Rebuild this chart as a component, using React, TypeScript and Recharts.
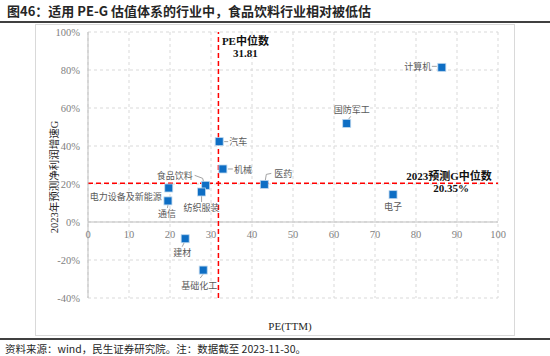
import React from 'react';
import { ScatterChart, Scatter, XAxis, YAxis, CartesianGrid, ReferenceLine } from 'recharts';

const industries = ['计算机', '国防军工', '电子', '汽车', '机械', '医药', '食品饮料', '纺织服装', '电力设备及新能源', '通信', '建材', '基础化工'];
const peTTM = [86.3, 63.1, 74.4, 32.0, 32.9, 43.0, 28.7, 27.7, 19.7, 19.5, 23.7, 28.1];
const growthG = [81.4, 51.9, 14.4, 42.3, 27.9, 19.8, 19.3, 15.8, 17.9, 11.1, -8.8, -25.3];
const xTicks = [0, 10, 20, 30, 40, 50, 60, 70, 80, 90, 100];
const yTicks = [-40, -20, 0, 20, 40, 60, 80, 100];
const peMedian = 31.81;
const gMedian = 20.35;

const points = industries.map((name, i) => ({ name, pe: peTTM[i], g: growthG[i] }));

// where each industry name sits relative to its marker, plus its little leader line
const labelPlace: Record<string, { dx: number; dy: number; leader?: number[][] }> = {
  计算机: { dx: -24, dy: -1, leader: [[-10, -1], [-5, -1]] },
  国防军工: { dx: 5, dy: -14, leader: [[4, -7], [1, -3]] },
  电子: { dx: 0, dy: 12 },
  汽车: { dx: 19, dy: 0, leader: [[5, 0], [9, 0]] },
  机械: { dx: 20, dy: 1, leader: [[5, 0], [10, 0]] },
  医药: { dx: 19, dy: -11, leader: [[1, -4], [2, -10], [7, -11]] },
  食品饮料: { dx: -31, dy: -10, leader: [[-11, -10], [-3, -7], [-2, -3]] },
  纺织服装: { dx: 0, dy: 16, leader: [[0, 4], [0, 10]] },
  电力设备及新能源: { dx: -43, dy: 9 },
  通信: { dx: -1, dy: 13, leader: [[0, 4], [-0.5, 7]] },
  建材: { dx: -3, dy: 14, leader: [[-1, 4], [-3, 8]] },
  基础化工: { dx: -4, dy: 15, leader: [[0, 4], [-3, 8]] },
};

const SERIF = "'Liberation Serif', 'Times New Roman', 'Noto Sans CJK SC', serif";
const CJK = "'Noto Sans CJK SC', sans-serif";

const CHART_W = 480;
const CHART_H = 312;
const PLOT_TOP = 8;
const PLOT_H = 266;
const zeroY = PLOT_TOP + (PLOT_H * 100) / 140;

const Marker = (props: any) => {
  const { cx, cy, payload } = props;
  const p = labelPlace[payload.name] || { dx: 0, dy: 14 };
  return (
    <g>
      {p.leader && (
        <polyline
          points={p.leader.map(([a, b]) => `${cx + a},${cy + b}`).join(' ')}
          fill="none"
          stroke="#8c8c8c"
          strokeWidth={0.8}
        />
      )}
      <rect x={cx - 4} y={cy - 4} width={8} height={8} fill="#0E6EC4" stroke="#BDD7EE" strokeWidth={0.8} />
      <text
        x={cx + p.dx}
        y={cy + p.dy}
        textAnchor="middle"
        dominantBaseline="central"
        fontSize={9}
        fill="#595959"
        fontFamily={CJK}
      >
        {payload.name}
      </text>
    </g>
  );
};

const XTick = (props: any) => {
  const { x, payload } = props;
  return (
    <text x={x} y={zeroY + 12} textAnchor="middle" dominantBaseline="central" fontSize={10.5} fill="#7f7f7f" fontFamily={SERIF}>
      {payload.value}
    </text>
  );
};

const PeMedianLabel = (props: any) => {
  const { x, y } = props.viewBox;
  return (
    <g fontFamily={SERIF} fontWeight="bold" fontSize={11} fill="#111">
      <text x={x + 27} y={y + 9} textAnchor="middle" dominantBaseline="central">PE中位数</text>
      <text x={x + 27} y={y + 21} textAnchor="middle" dominantBaseline="central">{peMedian}</text>
    </g>
  );
};

const GMedianLabel = (props: any) => {
  const { x, y, width } = props.viewBox;
  return (
    <g fontFamily={SERIF} fontWeight="bold" fontSize={11} fill="#111">
      <text x={x + width - 49} y={y - 7} textAnchor="middle" dominantBaseline="central">2023预测G中位数</text>
      <text x={x + width - 47} y={y + 5} textAnchor="middle" dominantBaseline="central">{gMedian}%</text>
    </g>
  );
};

const YTitle = (props: any) => {
  const { x, y, height } = props.viewBox;
  const cx = x + 16;
  const cy = y + height / 2 + 12;
  return (
    <text x={cx} y={cy} transform={`rotate(-90 ${cx} ${cy})`} textAnchor="middle" dominantBaseline="central" fontSize={10.5} fill="#262626" fontFamily={SERIF}>
      2023年预测净利润增速G
    </text>
  );
};

const XTitle = (props: any) => {
  const { x, y, width } = props.viewBox;
  return (
    <text x={x + width / 2 - 3} y={y + 28} textAnchor="middle" dominantBaseline="central" fontSize={11} fill="#262626" fontFamily={SERIF}>
      PE(TTM)
    </text>
  );
};

export default function App() {
  return (
    <div style={{ position: 'absolute', left: 0, top: 0, width: 550, height: 356, background: '#fff', overflow: 'hidden' }}>
      <div
        style={{
          position: 'absolute',
          left: 7,
          top: 2,
          fontFamily: CJK,
          fontWeight: 'bold',
          fontSize: 13,
          color: '#262626',
          lineHeight: '17px',
        }}
      >
        图46：适用 PE-G 估值体系的行业中，食品饮料行业相对被低估
      </div>
      <div style={{ position: 'absolute', left: 0, top: 21, width: 550, height: 2, background: '#404040' }} />
      <div
        style={{
          position: 'absolute',
          left: 35,
          top: 24,
          width: CHART_W,
          height: CHART_H,
          border: '1px solid #d9d9d9',
          boxSizing: 'border-box',
        }}
      />
      <div style={{ position: 'absolute', left: 35, top: 24 }}>
        <ScatterChart width={CHART_W} height={CHART_H} margin={{ top: PLOT_TOP, right: 17, left: 3, bottom: 8 }}>
          <CartesianGrid stroke="#d9d9d9" strokeDasharray="3 3" />
          <XAxis
            type="number"
            dataKey="pe"
            domain={[0, 100]}
            ticks={xTicks}
            height={30}
            axisLine={false}
            tickLine={false}
            tick={<XTick />}
            interval={0}
            label={<XTitle />}
          />
          <YAxis
            type="number"
            dataKey="g"
            domain={[-40, 100]}
            ticks={yTicks}
            width={50}
            axisLine={{ stroke: '#bfbfbf' }}
            tickLine={false}
            tickFormatter={(v: number) => `${v}%`}
            tick={{ fontSize: 10.5, fill: '#7f7f7f', fontFamily: SERIF }}
            interval={0}
            label={<YTitle />}
          />
          <ReferenceLine y={0} stroke="#bfbfbf" strokeWidth={1} />
          <ReferenceLine x={peMedian} stroke="#FF0000" strokeWidth={1.5} strokeDasharray="5 3" label={<PeMedianLabel />} />
          <ReferenceLine y={gMedian} stroke="#FF0000" strokeWidth={1.5} strokeDasharray="5 3" label={<GMedianLabel />} />
          <Scatter data={points} shape={<Marker />} isAnimationActive={false} />
        </ScatterChart>
      </div>
      <div style={{ position: 'absolute', left: 0, top: 338, width: 550, height: 2, background: '#404040' }} />
      <div
        style={{
          position: 'absolute',
          left: 5,
          top: 342,
          fontFamily: CJK,
          fontSize: 10.5,
          color: '#262626',
          lineHeight: '14px',
          whiteSpace: 'nowrap',
        }}
      >
        资料来源：wind，民生证券研究院。注：数据截至 2023-11-30。
      </div>
    </div>
  );
}
